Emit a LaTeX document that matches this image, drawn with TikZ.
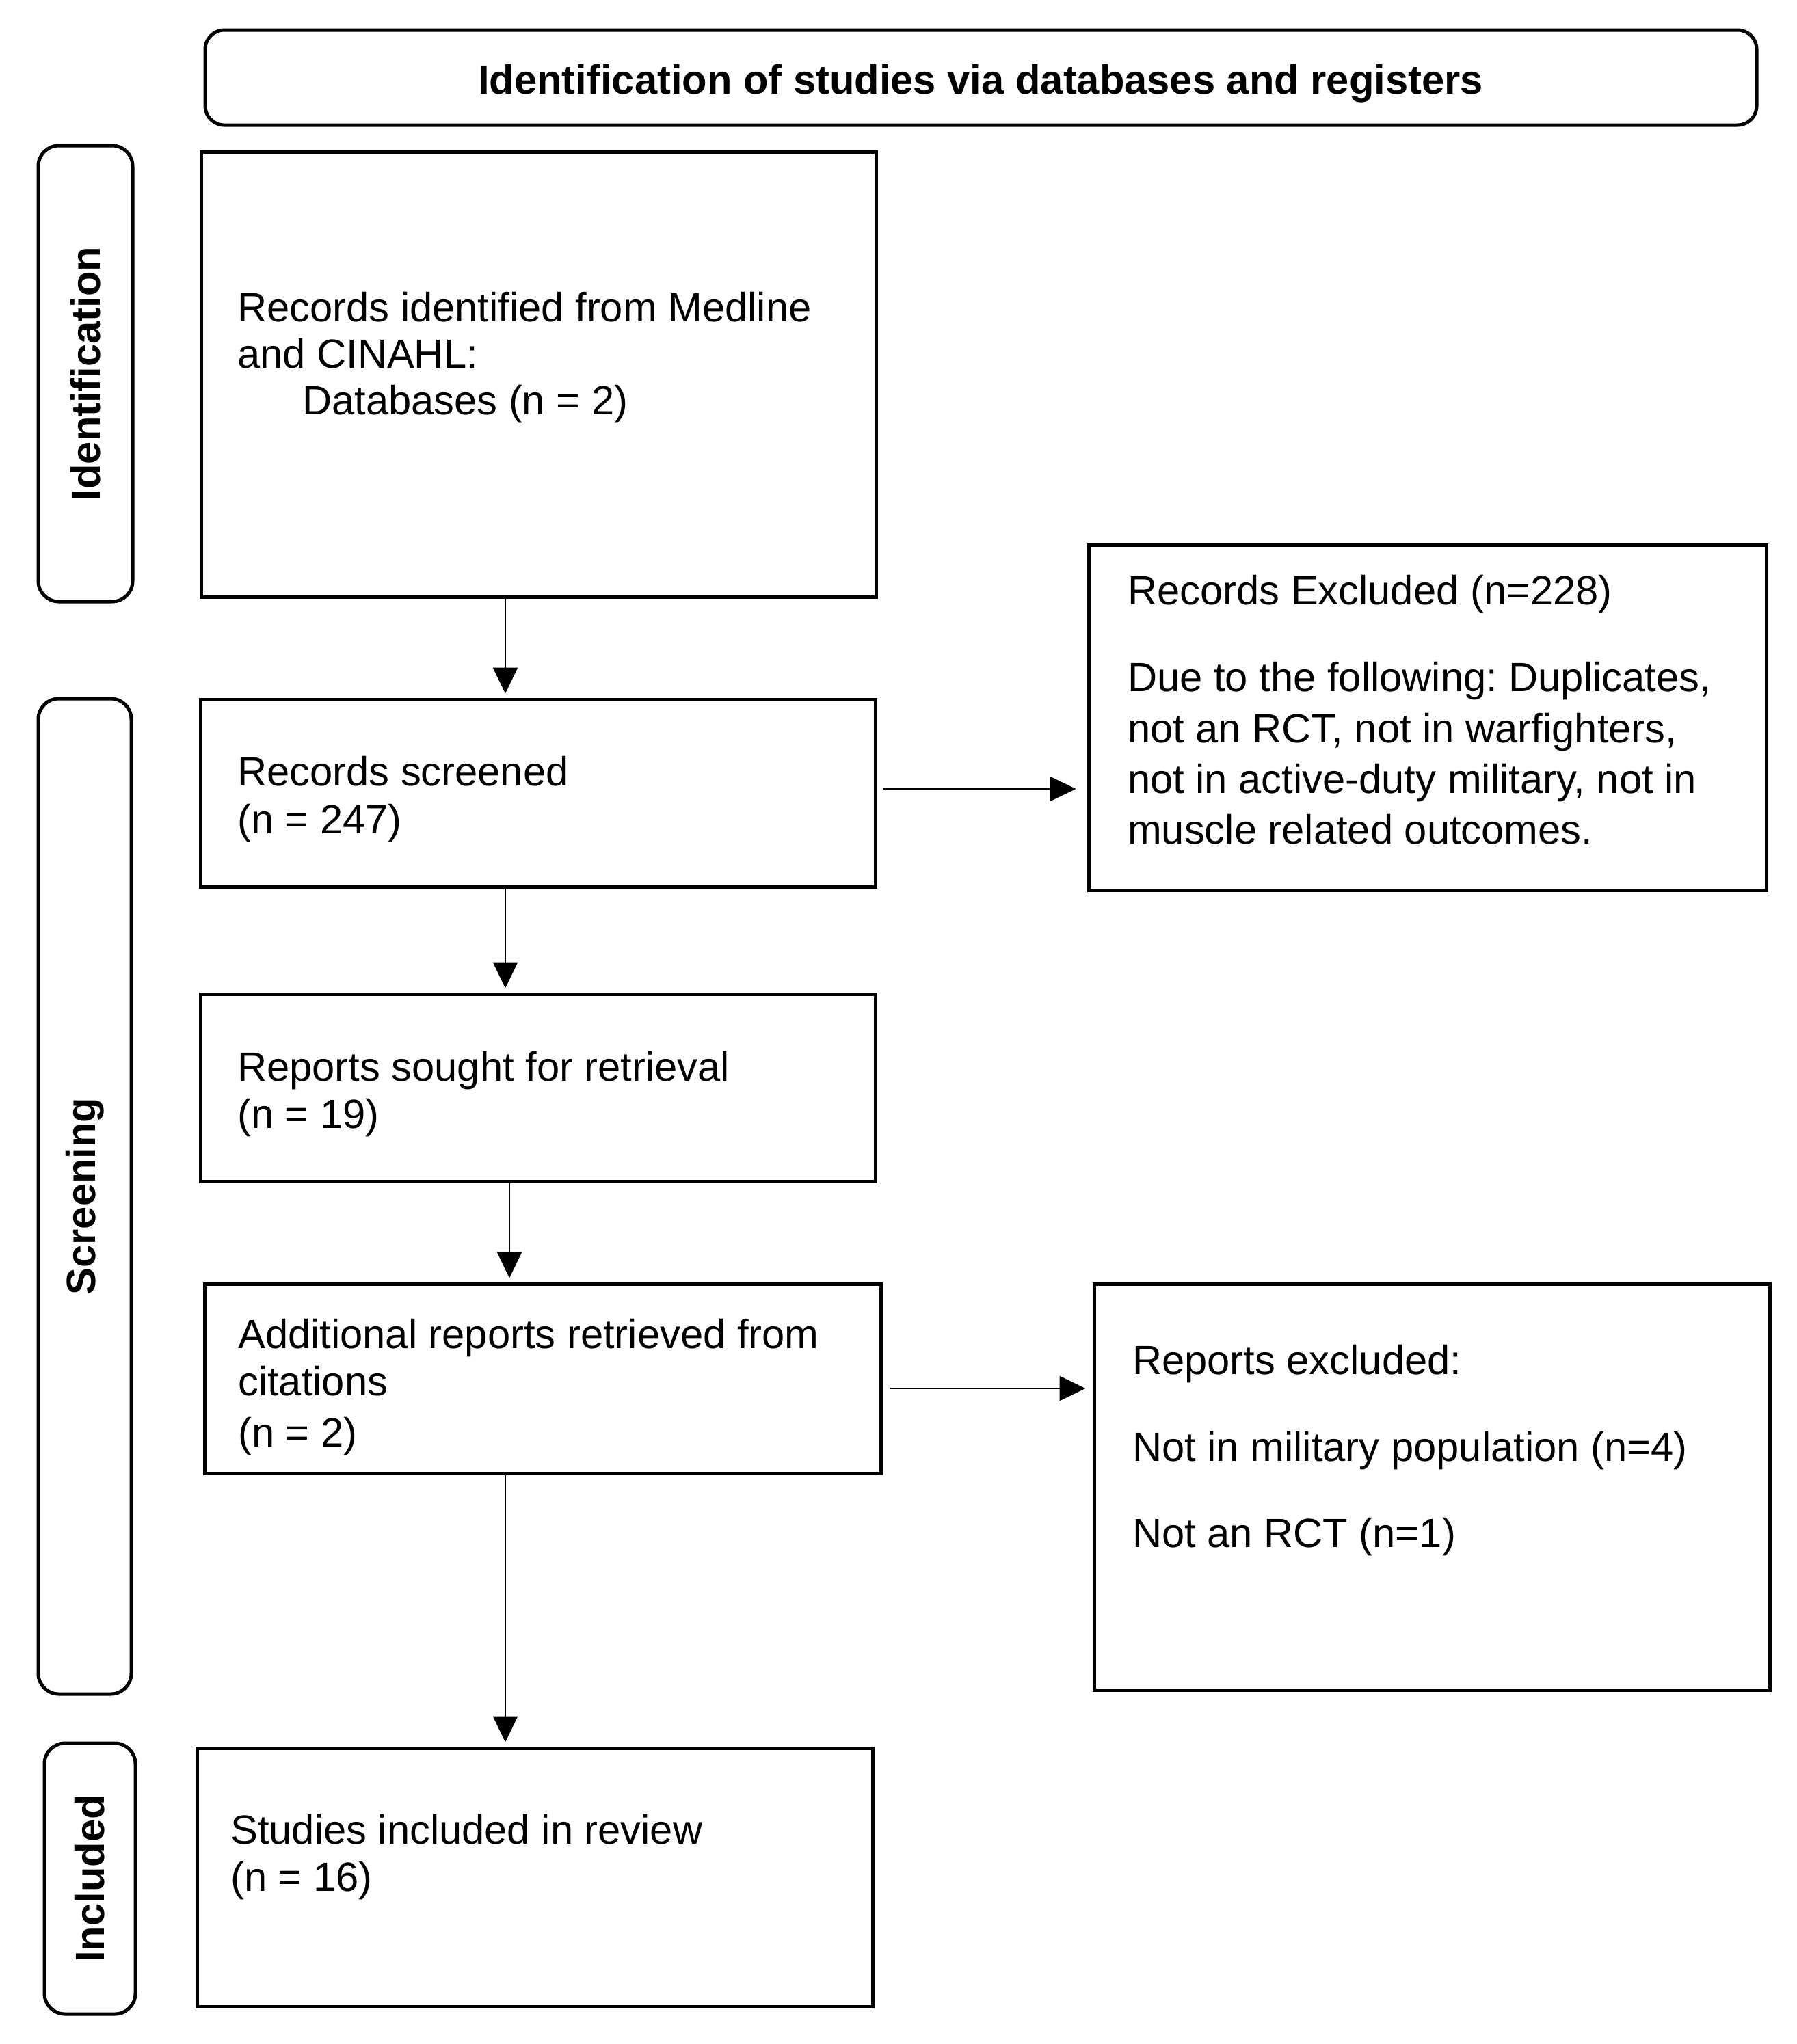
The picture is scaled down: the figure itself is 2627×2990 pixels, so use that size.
\documentclass[tikz,border=0pt]{standalone}
\usepackage{fontspec}
\setmainfont{Liberation Sans}
\usetikzlibrary{arrows.meta,fit}
\frenchspacing
\begin{document}
\begin{tikzpicture}[x=1pt,y=-1pt,
  box/.style={draw, line width=5pt, inner sep=0pt},
  lane/.style={draw, line width=5pt, rounded corners=30pt, inner sep=0pt},
  txt/.style={anchor=base west, inner sep=0pt, font=\fontsize{59.7}{70}\selectfont},
  boldtxt/.style={inner sep=0pt, font=\fontsize{59.7}{70}\selectfont\bfseries},
  arr/.style={line width=2.5pt, -{Triangle[length=38pt,width=36pt]}, shorten >=6pt}]
\useasboundingbox (0,0) rectangle (2627,2990);

% title
\node[lane, rounded corners=28pt, fit={(300,44) (2569,183)}] (title) {};
\node[boldtxt, anchor=base] (titletxt) at (1434,137) {Identification of studies via databases and registers};

% lanes
\node[lane, fit={(56,213) (194,880)}] (lid) {};
\node[boldtxt, rotate=90] (lidtxt) at (lid.center) {Identification};
\node[lane, fit={(56,1022) (192,2478)}] (lsc) {};
\node[boldtxt, rotate=90] (lsctxt) at (lsc.center) {Screening};
\node[lane, fit={(65,2550) (198,2946)}] (lin) {};
\node[boldtxt, rotate=90] (lintxt) at (lin.center) {Included};

% boxes
\node[box, fit={(294,222) (1281,873)}] (rid) {};
\node[box, fit={(293,1023) (1280,1297)}] (rsc) {};
\node[box, fit={(293,1454) (1280,1728)}] (rso) {};
\node[box, fit={(299,1878) (1288,2155)}] (rad) {};
\node[box, fit={(288,2557) (1276,2935)}] (rst) {};
\node[box, fit={(1592,797) (2583,1302)}] (rex) {};
\node[box, fit={(1600,1878) (2588,2472)}] (rep) {};

% texts
\node[txt] (t1a) at (347,470) {Records identified from Medline};
\node[txt] (t1b) at (347,538) {and CINAHL:};
\node[txt] (t1c) at (442,606) {Databases (n = 2)};

\node[txt] (t2a) at (347,1149) {Records screened};
\node[txt] (t2b) at (347,1219) {(n = 247)};

\node[txt] (t3a) at (347,1581) {Reports sought for retrieval};
\node[txt] (t3b) at (347,1650) {(n = 19)};

\node[txt] (t4a) at (348,1972) {Additional reports retrieved from};
\node[txt] (t4b) at (348,2041) {citations};
\node[txt] (t4c) at (348,2116) {(n = 2)};

\node[txt] (t5a) at (337,2697) {Studies included in review};
\node[txt] (t5b) at (337,2766) {(n = 16)};

\node[txt] (t6a) at (1649,884) {Records Excluded (n=228)};
\node[txt] (t6b) at (1649,1011) {Due to the following: Duplicates,};
\node[txt] (t6c) at (1649,1086) {not an RCT, not in warfighters,};
\node[txt] (t6d) at (1649,1160) {not in active-duty military, not in};
\node[txt] (t6e) at (1649,1234) {muscle related outcomes.};

\node[txt] (t7a) at (1656,2010) {Reports excluded:};
\node[txt] (t7b) at (1656,2137) {Not in military population (n=4)};
\node[txt] (t7c) at (1656,2263) {Not an RCT (n=1)};

% connectors
\coordinate (xa) at (739,0);
\coordinate (xb) at (745,0);
\coordinate (ya) at (0,1154);
\coordinate (yb) at (0,2031);
\draw[arr] (rid.south -| xa) -- (rsc.north -| xa);
\draw[arr] (rsc.south -| xa) -- (rso.north -| xa);
\draw[arr] (rso.south -| xb) -- (rad.north -| xb);
\draw[arr] (rad.south -| xa) -- (rst.north -| xa);
\draw[arr, shorten <=8pt, shorten >=16pt] (rsc.east |- ya) -- (rex.west |- ya);
\draw[arr, shorten <=11pt, shorten >=10pt] (rad.east |- yb) -- (rep.west |- yb);
\end{tikzpicture}
\end{document}
